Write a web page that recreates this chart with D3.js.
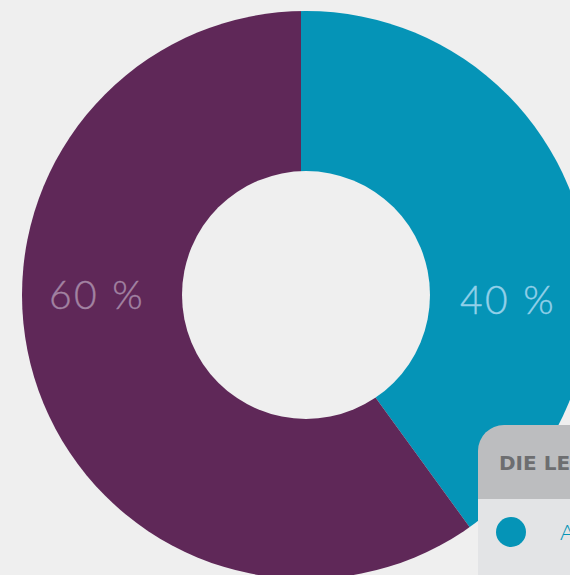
<!DOCTYPE html>
<html>
<head>
<meta charset="utf-8">
<script src="https://cdn.jsdelivr.net/npm/d3@7"></script>
<style>
  html, body { margin: 0; padding: 0; background: #efefef; overflow: hidden; }
  svg { display: block; }
</style>
</head>
<body>
<div id="chart"></div>
<script>
// donut: share of two answers, legend box bottom right (cut off by the frame)

const categories = ['Ablehnung', 'Zustimmung'];
const values     = [40, 60];
const valueLabels = ['40 %', '60 %'];
const legendTitle = 'DIE LEGENDE';

const COLORS      = ['#0594b7', '#5f2858'];
const LABEL_COLORS = ['#93d0e9', '#a283a2'];

const W = 570, H = 575;
const cx = 306, cy = 295;
const outerR = 284, innerR = 124;
const sliceOffset = -5; // slice edges sit a little left of the ring centre

const svg = d3.select('#chart')
  .append('svg')
  .attr('width', W)
  .attr('height', H);

svg.append('rect')
  .attr('width', W).attr('height', H)
  .attr('fill', '#efefef');

svg.append('clipPath')
  .attr('id', 'ring')
  .append('circle')
  .attr('cx', cx).attr('cy', cy).attr('r', outerR);

const pie = d3.pie().sort(null).value(d => d);
const arc = d3.arc().innerRadius(0).outerRadius(outerR + 20);

const g = svg.append('g').attr('clip-path', 'url(#ring)');

g.append('g')
  .attr('transform', `translate(${cx + sliceOffset},${cy})`)
  .selectAll('path')
  .data(pie(values))
  .join('path')
  .attr('d', arc)
  .attr('fill', (d, i) => COLORS[i]);

// hole
svg.append('circle')
  .attr('cx', cx).attr('cy', cy).attr('r', innerR)
  .attr('fill', '#efefef');

// value labels, left and right on the ring middle
const midR = (outerR + innerR) / 2;
svg.selectAll('.val')
  .data(values)
  .join('text')
  .attr('class', 'val')
  .attr('x', (d, i) => i === 0 ? cx + midR - 2 : cx - midR - 5)
  .attr('y', (d, i) => i === 0 ? cy + 19 : cy + 14)
  .attr('text-anchor', 'middle')
  .attr('font-family', 'Lato, "Open Sans", sans-serif')
  .attr('font-weight', 300)
  .attr('font-size', 39)
  .attr('letter-spacing', 2.5)
  .attr('stroke', (d, i) => LABEL_COLORS[i])
  .attr('stroke-width', 0.4)
  .attr('fill', (d, i) => LABEL_COLORS[i])
  .text((d, i) => valueLabels[i]);

// legend box
const lg = svg.append('g').attr('transform', 'translate(478,425)');

lg.append('rect')
  .attr('width', 220).attr('height', 260)
  .attr('rx', 26).attr('ry', 26)
  .attr('fill', '#bcbdbf');

lg.append('rect')
  .attr('y', 74)
  .attr('width', 220).attr('height', 200)
  .attr('fill', '#e3e4e6');

lg.append('text')
  .attr('x', 21).attr('y', 45)
  .attr('font-family', '"DejaVu Sans", sans-serif')
  .attr('font-weight', 700)
  .attr('font-size', 20)
  .attr('fill', '#6d6e70')
  .text(legendTitle);

const items = lg.selectAll('.item')
  .data(categories)
  .join('g')
  .attr('class', 'item')
  .attr('transform', (d, i) => `translate(0,${107 + i * 64})`);

items.append('circle')
  .attr('cx', 33).attr('r', 15)
  .attr('fill', (d, i) => COLORS[i]);

items.append('text')
  .attr('x', 82).attr('y', 8)
  .attr('font-family', 'Lato, "Open Sans", sans-serif')
  .attr('font-weight', 300)
  .attr('font-size', 22)
  .attr('fill', (d, i) => COLORS[i])
  .text(d => d);
</script>
</body>
</html>
